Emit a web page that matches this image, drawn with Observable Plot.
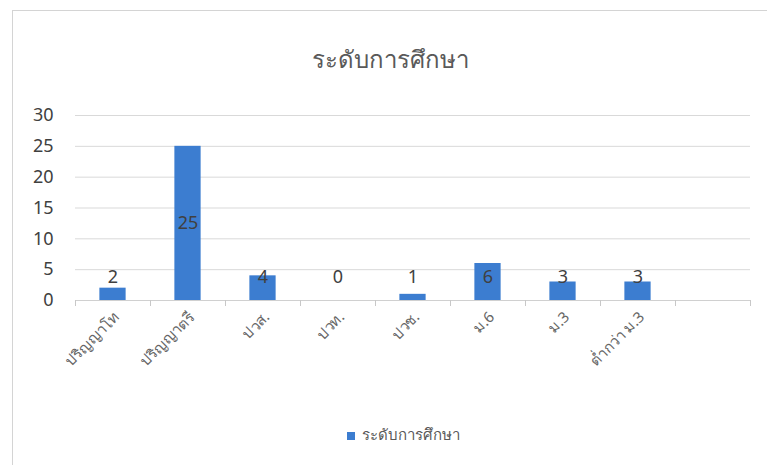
<!DOCTYPE html>
<html>
<head>
<meta charset="utf-8">
<script src="https://cdn.jsdelivr.net/npm/d3@7"></script>
<script src="https://cdn.jsdelivr.net/npm/@observablehq/plot@0.6"></script>
<style>
  body { margin: 0; background: #fff; font-family: "Noto Sans", "DejaVu Sans", sans-serif; }
  #wrap { position: relative; width: 767px; height: 465px; overflow: hidden; }
  #frame { position: absolute; left: 12px; top: 10px; width: 760px; height: 460px; border-left: 1px solid #d4d4d4; border-top: 1px solid #d4d4d4; }
  #title { position: absolute; left: 0; width: 780px; top: 40px; text-align: center; font-size: 24px; color: #595959; }
  #chart { position: absolute; left: 0; top: 100px; }
  #legend { position: absolute; left: 0; width: 806px; top: 423px; text-align: center; font-size: 15px; color: #595959; }
  #legend span.sw { display: inline-block; width: 8px; height: 8px; background: #3c7dd0; margin-right: 7px; vertical-align: middle; }
</style>
</head>
<body>
<div id="wrap">
  <div id="frame"></div>
  <div id="title">ระดับการศึกษา</div>
  <div id="chart"></div>
  <div id="legend"><span class="sw"></span><span>ระดับการศึกษา</span></div>
</div>
<script>
const categories = ["ปริญญาโท", "ปริญญาตรี", "ปวส.", "ปวท.", "ปวช.", "ม.6", "ม.3", "ต่ำกว่า ม.3", " "];
const values = [2, 25, 4, 0, 1, 6, 3, 3];
const yTicks = [0, 5, 10, 15, 20, 25, 30];
const seriesName = "ระดับการศึกษา";

const data = values.map((v, i) => ({cat: categories[i], v}));
const barColor = "#3c7dd0";
const band = (767 - 75 - 17) / categories.length;

const chart = Plot.plot({
  width: 767,
  height: 300,
  marginLeft: 75,
  marginRight: 17,
  marginTop: 15,
  marginBottom: 100,
  style: {fontFamily: '"Noto Sans", "DejaVu Sans", sans-serif', background: "transparent"},
  x: {type: "band", domain: categories, padding: 0, label: null},
  y: {domain: [0, 30], label: null},
  marks: [
    Plot.gridY(yTicks.filter(t => t > 0), {stroke: "#d9d9d9", strokeOpacity: 1}),
    Plot.axisY(yTicks, {tickSize: 0, tickPadding: 22, fontSize: 18, fill: "#404040", label: null}),
    Plot.barY(data, {x: "cat", y: "v", fill: barColor, insetLeft: band * 0.325, insetRight: band * 0.325}),
    Plot.ruleY([0], {stroke: "#d0d0d0"}),
    Plot.axisX({tickSize: 6, dx: -band / 2, tickFormat: () => "", stroke: "#c8c8c8", label: null}),
    Plot.axisX([categories[categories.length - 1]], {tickSize: 6, dx: band / 2, tickFormat: () => "", stroke: "#c8c8c8", label: null}),
    Plot.axisX({tickSize: 0, tickRotate: -45, tickPadding: 14, dx: 4, fontSize: 15, fill: "#666666", label: null}),
    Plot.text(data, {x: "cat", y: d => Math.max(d.v / 2, 3.7), text: d => String(d.v), fontSize: 18, fill: "#404040"})
  ]
});
document.getElementById("chart").appendChild(chart);
</script>
</body>
</html>
